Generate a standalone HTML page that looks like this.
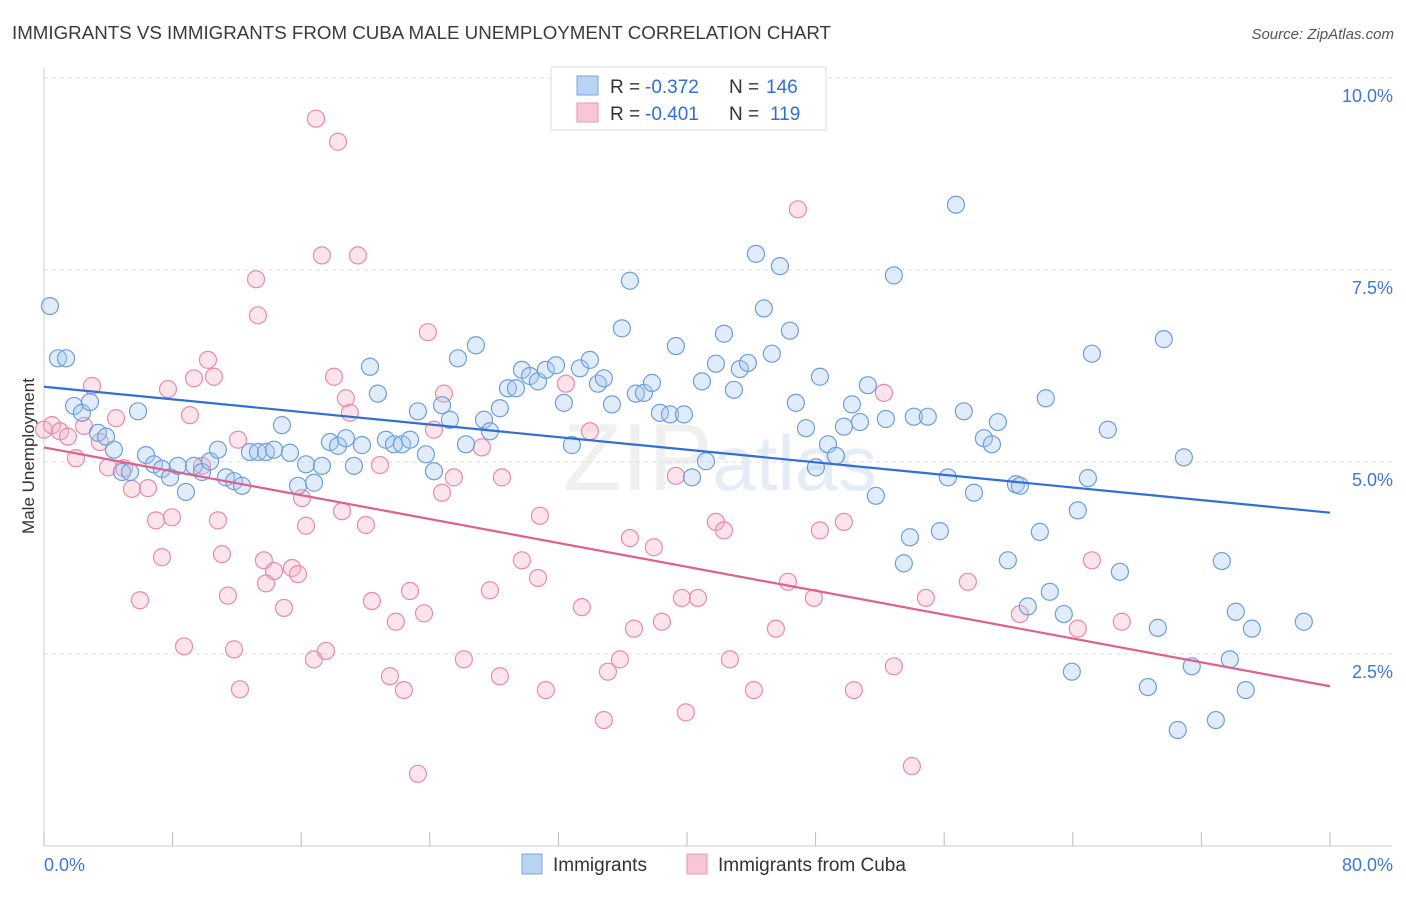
<!DOCTYPE html>
<html><head><meta charset="utf-8">
<style>
body{margin:0;background:#fff;font-family:"Liberation Sans",sans-serif;}
svg text{font-family:"Liberation Sans",sans-serif;}
</style></head>
<body>
<svg id="chart" width="1406" height="892" xmlns="http://www.w3.org/2000/svg">
<text x="12" y="39" font-size="18" fill="#3a3a3a" textLength="819" lengthAdjust="spacingAndGlyphs">IMMIGRANTS VS IMMIGRANTS FROM CUBA MALE UNEMPLOYMENT CORRELATION CHART</text>
<text x="1394" y="39" font-size="15" fill="#555" text-anchor="end" font-style="italic">Source: ZipAtlas.com</text>
<text x="34" y="456" font-size="17" fill="#333" text-anchor="middle" transform="rotate(-90 34 456)">Male Unemployment</text>
<g id="grid"></g>
<g id="axes"></g>
<text x="720" y="490" font-size="96" fill="#dcdcdc" opacity="0.4" text-anchor="middle" font-family="Liberation Serif">ZIP<tspan fill="#bcd2ea" font-family="Liberation Sans" font-size="78">atlas</tspan></text>
<g id="pts"></g>
<g id="trends"></g>
<g>
<rect x="551" y="67" width="275" height="63" fill="#fff" stroke="#ddd"/>
<rect x="577" y="76" width="21" height="19" fill="#b9d3f3" stroke="#7aa6e0"/>
<rect x="577" y="103" width="21" height="19" fill="#f9c6d6" stroke="#ec95b1"/>
<text x="610" y="93" font-size="19" fill="#333">R =</text>
<text x="645" y="93" font-size="19" fill="#2f6fd6">-0.372</text>
<text x="729" y="93" font-size="19" fill="#333">N =</text>
<text x="766" y="93" font-size="19" fill="#2f6fd6">146</text>
<text x="610" y="120" font-size="19" fill="#333">R =</text>
<text x="645" y="120" font-size="19" fill="#2f6fd6">-0.401</text>
<text x="729" y="120" font-size="19" fill="#333">N =</text>
<text x="770" y="120" font-size="19" fill="#2f6fd6">119</text>
</g>
<g>
<rect x="522" y="854" width="20" height="20" fill="#b9d3f3" stroke="#7aa6e0"/>
<text x="553" y="871" font-size="19" fill="#333">Immigrants</text>
<rect x="687" y="854" width="20" height="20" fill="#f9c6d6" stroke="#ec95b1"/>
<text x="718" y="871" font-size="19" fill="#333">Immigrants from Cuba</text>
</g>
</svg>
<script>
const blueX=[0.37,0.87,1.37,1.87,2.36,2.86,3.36,3.86,4.35,4.85,5.35,5.85,6.35,6.84,7.34,7.84,8.33,8.83,9.33,9.83,10.33,10.82,11.32,11.82,12.32,12.81,13.31,13.81,14.31,14.8,15.3,15.8,16.3,16.8,17.29,17.79,18.29,18.78,19.28,19.78,20.28,20.77,21.27,21.77,22.27,22.77,23.26,23.76,24.26,24.76,25.25,25.75,26.25,26.87,27.37,27.74,28.36,28.86,29.36,29.73,30.23,30.73,31.22,31.85,32.34,32.84,33.34,33.96,34.46,34.83,35.33,35.95,36.45,36.82,37.32,37.82,38.32,38.94,39.31,39.81,40.31,40.93,41.18,41.8,42.3,42.92,43.29,43.79,44.29,44.78,45.28,45.78,46.4,46.77,47.4,48.02,48.27,48.77,49.26,49.76,50.26,50.76,51.25,51.75,52.37,52.87,53.49,53.87,54.11,54.98,55.73,56.23,56.73,57.22,57.85,58.47,58.97,59.34,59.96,60.46,60.71,61.2,61.95,62.32,62.57,63.44,63.94,64.31,64.94,65.19,66.18,66.93,68.67,69.29,69.66,70.53,70.91,71.4,72.9,73.27,73.77,74.14,74.76,75.14,78.37];
const blueY=[7.03,6.35,6.35,5.73,5.64,5.78,5.38,5.33,5.16,4.87,4.87,5.66,5.09,4.97,4.91,4.80,4.95,4.61,4.95,4.87,5.01,5.16,4.80,4.75,4.69,5.13,5.13,5.13,5.16,5.48,5.12,4.69,4.97,4.73,4.95,5.26,5.21,5.31,4.95,5.22,6.24,5.89,5.29,5.23,5.23,5.29,5.66,5.10,4.88,5.74,5.55,6.35,5.23,6.52,5.55,5.40,5.70,5.96,5.96,6.20,6.12,6.05,6.20,6.26,5.77,5.22,6.22,6.33,6.02,6.09,5.75,6.74,7.36,5.89,5.90,6.03,5.64,5.62,6.51,5.62,4.80,6.05,5.01,6.28,6.67,5.94,6.21,6.29,7.71,7.00,6.41,7.55,6.71,5.77,5.44,4.93,6.11,5.23,5.08,5.46,5.75,5.52,6.00,4.56,5.56,7.43,3.68,4.02,5.59,5.59,4.10,4.80,8.35,5.66,4.60,5.31,5.23,5.52,3.72,4.71,4.69,3.12,4.09,5.83,3.31,3.02,2.27,4.37,4.79,6.41,5.42,3.57,2.07,2.84,6.60,1.51,5.06,2.34,1.64,3.71,2.43,3.05,2.03,2.83,2.92];
const pinkX=[0,0.5,1.0,1.49,1.99,2.49,2.99,3.48,3.98,4.48,4.98,5.47,5.97,6.47,6.97,7.34,7.71,7.96,8.71,9.08,9.33,9.83,10.2,10.57,10.82,11.07,11.44,11.82,12.07,12.19,13.19,13.31,13.68,13.81,14.31,14.93,15.43,15.8,16.05,16.3,16.79,16.92,17.29,17.54,18.04,18.29,18.54,18.78,19.03,19.53,20.03,20.4,20.9,21.52,21.89,22.39,22.77,23.26,23.64,23.88,24.26,24.76,24.88,25.5,26.12,27.24,27.74,28.36,28.49,29.73,30.73,30.85,31.22,32.47,33.46,33.96,34.83,35.08,35.83,36.45,36.7,37.94,38.44,39.31,39.68,39.93,40.68,41.8,42.3,42.67,44.16,45.53,46.28,46.9,47.89,48.27,49.76,50.38,52.25,52.87,53.99,54.86,57.47,60.71,64.31,65.19,67.05];
const pinkY=[5.42,5.48,5.40,5.33,5.05,5.47,5.99,5.26,4.93,5.57,4.92,4.65,3.20,4.66,4.24,3.76,5.95,4.28,2.60,5.61,6.09,4.95,6.33,6.11,4.24,3.80,3.26,2.56,5.29,2.04,7.38,6.91,3.72,3.42,3.58,3.10,3.62,3.54,4.53,4.17,2.43,9.47,7.69,2.54,6.11,9.17,4.36,5.83,5.64,7.69,4.18,3.19,4.96,2.21,2.92,2.03,3.32,0.94,3.03,6.69,5.42,4.60,5.89,4.80,2.43,5.19,3.33,2.21,4.80,3.72,3.49,4.30,2.03,6.02,3.11,5.40,1.64,2.27,2.43,4.01,2.83,3.89,2.92,4.82,3.23,1.74,3.23,4.22,4.11,2.43,2.03,2.83,3.44,8.29,3.23,4.11,4.22,2.03,5.90,2.34,1.04,3.23,3.44,3.02,2.83,3.72,2.92];
const trendStart=[5.98,5.19];
const trendEnd=[4.34,2.08];
const yTicks=[2.5,5.0,7.5,10.0];
const xTickLabels=["0.0%","80.0%"];

const X0=44,X1=1330,Y0=846,PXY=76.8;
const sx=v=>X0+(v/80)*(X1-X0);
const sy=v=>Y0-v*PXY;
const NS="http://www.w3.org/2000/svg";
function mk(tag,attrs,parent){const e=document.createElementNS(NS,tag);for(const k in attrs)e.setAttribute(k,attrs[k]);parent.appendChild(e);return e;}

const grid=document.getElementById('grid');
yTicks.forEach(t=>{
  const l=mk('line',{x1:X0,x2:1392,y1:sy(t),y2:sy(t),stroke:'#ddd','stroke-dasharray':'4,4'},grid);
  
  
  const tx=mk('text',{x:1393,y:sy(t)+24,'font-size':18,fill:'#3c78d8','text-anchor':'end'},grid);
  tx.textContent=t.toFixed(1)+'%';
  
  
});
const axes=document.getElementById('axes');
const ya=mk('line',{x1:X0,x2:X0,y1:68,y2:Y0,stroke:'#ccc'},axes);


const xa=mk('line',{x1:X0,x2:1392,y1:Y0,y2:Y0,stroke:'#ccc'},axes);


for(let i=0;i<=10;i++){
  const tk=mk('line',{x1:sx(i*8),x2:sx(i*8),y1:Y0-14,y2:Y0,stroke:'#bbb'},axes);
  
  
}
[[0,'start'],[80,'end']].forEach((p,i)=>{
  const t=mk('text',{x:sx(p[0])+(i?63:0),y:871,'font-size':18,fill:'#3c78d8','text-anchor':i?'end':'start'},axes);
  t.textContent=xTickLabels[i];
  
  
});

const pts=document.getElementById('pts');
function series(xs,ys,fill,stroke,name){
  xs.forEach((x,i)=>{
    const c=mk('circle',{cx:sx(x),cy:sy(ys[i]),r:8.5,fill:fill,'fill-opacity':0.35,stroke:stroke,'stroke-width':1.2},pts);
    
    
  });
}
series(pinkX,pinkY,'#f6b3c8','#e98aa9','point-cuba');
series(blueX,blueY,'#a8c8f0','#6d9edc','point-immigrants');

const tr=document.getElementById('trends');
const cols=['#2f6fd6','#e0608c'];
const names=['trend-line-immigrants','trend-line-cuba'];
[0,1].forEach(i=>{
  const l=mk('line',{x1:sx(0),y1:sy(trendStart[i]),x2:sx(80),y2:sy(trendEnd[i]),stroke:cols[i],'stroke-width':2.2},tr);
  
  
});
</script>
</body></html>
